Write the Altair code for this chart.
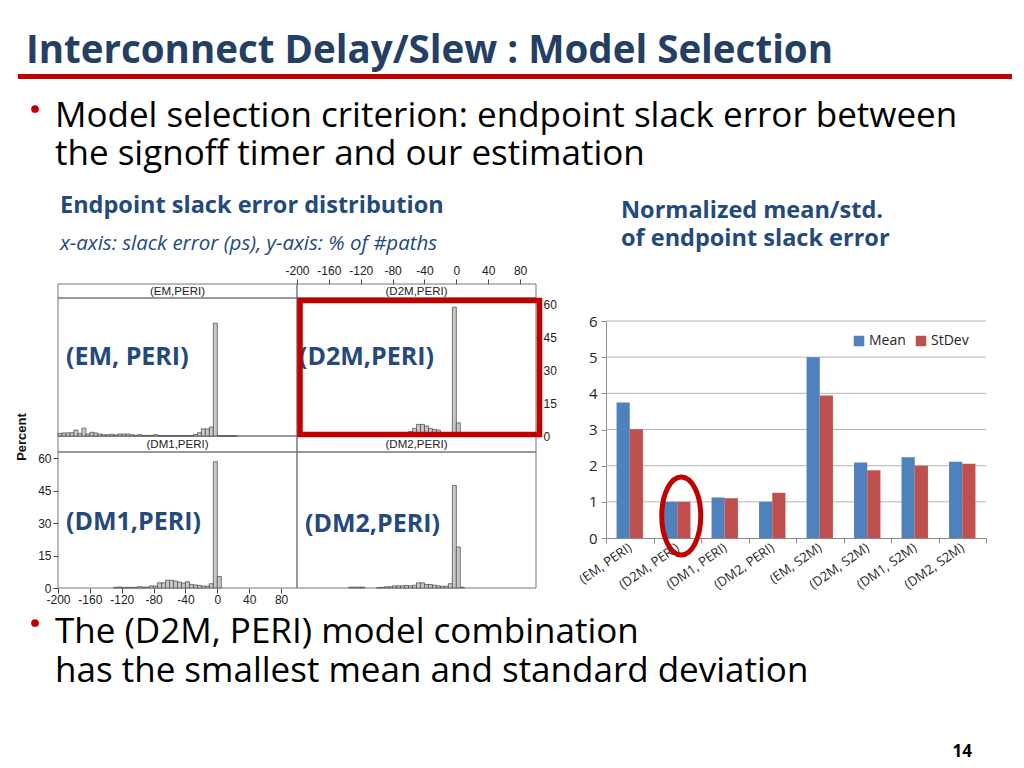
import pandas as pd
import altair as alt

# ── slide text ────────────────────────────────────────────────────────────────
SLIDE_TITLE = 'Interconnect Delay/Slew : Model Selection'
BULLET_1 = ['Model selection criterion: endpoint slack error between',
            'the signoff timer and our estimation']
BULLET_2 = ['The (D2M, PERI) model combination',
            'has the smallest mean and standard deviation']
HIST_TITLE = 'Endpoint slack error distribution'
HIST_NOTE = 'x-axis: slack error (ps), y-axis: % of #paths'
BAR_TITLE = ['Normalized mean/std.', 'of endpoint slack error']
PAGE_NO = '14'
Y_TITLE = 'Percent'

# ── histogram data (5 ps bins, % of paths) ────────────────────────────────────
BIN_WIDTH = 5
BIN_LEFT = [-200, -195, -190, -185, -180, -175, -170, -165, -160, -155,
            -150, -145, -140, -135, -130, -125, -120, -115, -110, -105,
            -100, -95, -90, -85, -80, -75, -70, -65, -60, -55,
            -50, -45, -40, -35, -30, -25, -20, -15, -10, -5,
            0, 5, 10, 15, 20, 25, 30, 35, 40, 45,
            50, 55, 60, 65, 70, 75, 80, 85, 90, 95]

PCT_EM = [1.2, 1.4, 1.4, 1.5, 2.7, 1.2, 3.6, 0.9, 1.7, 1.4,
          0.9, 0.6, 0.6, 0.8, 0.5, 0.9, 0.9, 0.9, 0.6, 0.3,
          0.6, 0.3, 0.2, 0.3, 0.6, 0.2, 0.1, 0.1, 0.1, 0.1,
          0.1, 0.1, 0.1, 0.2, 0.7, 1.5, 3.3, 3.2, 4.1, 51.5,
          0.1, 0.05, 0.05, 0.05, 0.05, 0, 0, 0, 0, 0,
          0, 0, 0, 0, 0, 0, 0, 0, 0, 0]
PCT_D2M = [0, 0, 0, 0, 0, 0, 0, 0, 0, 0,
           0, 0, 0, 0, 0, 0, 0, 0, 0, 0,
           0, 0, 0, 0, 0, 0, 0, 0.5, 2.0, 3.5,
           5.3, 5.3, 4.6, 3.5, 3.0, 2.7, 0.8, 0.3, 1.0, 58.8,
           6.0, 0, 0, 0, 0, 0, 0, 0, 0, 0,
           0, 0, 0, 0, 0, 0, 0, 0, 0, 0]
PCT_DM1 = [0, 0, 0, 0, 0, 0, 0, 0, 0, 0,
           0, 0, 0, 0, 0.3, 0.45, 0.1, 0.3, 0.3, 0.3,
           0.6, 0.45, 0.45, 1.0, 0.9, 2.4, 2.4, 3.6, 3.6, 3.2,
           2.7, 2.3, 2.9, 1.7, 1.4, 1.2, 0.9, 0.9, 2.0, 58.5,
           5.3, 0, 0, 0, 0, 0, 0, 0, 0, 0,
           0, 0, 0, 0, 0, 0, 0, 0, 0, 0]
PCT_DM2 = [0, 0, 0, 0, 0, 0, 0, 0, 0, 0,
           0, 0, 0, 0.4, 0.4, 0.4, 0.4, 0, 0, 0,
           0.2, 0.3, 0.6, 0.6, 1.0, 1.0, 1.0, 1.2, 1.0, 1.3,
           2.4, 2.4, 1.6, 1.6, 1.3, 1.0, 0.8, 0.8, 2.0, 47.5,
           19.0, 0.4, 0, 0, 0, 0, 0, 0, 0, 0,
           0, 0, 0, 0, 0, 0, 0, 0, 0, 0]

STRIPS = ['(EM,PERI)', '(D2M,PERI)', '(DM1,PERI)', '(DM2,PERI)']
NOTES = ['(EM, PERI)', '(D2M,PERI)', '(DM1,PERI)', '(DM2,PERI)']
X_TICKS = [-200, -160, -120, -80, -40, 0, 40, 80]
Y_TICKS = [0, 15, 30, 45, 60]

# ── bar chart data ────────────────────────────────────────────────────────────
MODELS = ['(EM, PERI)', '(D2M, PERI)', '(DM1, PERI)', '(DM2, PERI)',
          '(EM, S2M)', '(D2M, S2M)', '(DM1, S2M)', '(DM2, S2M)']
MEAN = [3.75, 1.0, 1.12, 1.0, 5.0, 2.09, 2.23, 2.11]
STDEV = [3.01, 1.0, 1.10, 1.25, 3.94, 1.87, 2.0, 2.05]
STATS = ['Mean', 'StDev']
STAT_COLORS = ['#4F81BD', '#C0504D']
BAR_TICKS = [0, 1, 2, 3, 4, 5, 6]
BAR_GRID = [1, 2, 3, 4, 5, 6]

# ── layout (pixels inside the 1008 x 760 view) ───────────────────────────────
W, H = 1008, 760
NAVY = '#243F66'
BLUE = '#24497C'
RED = '#C00000'
FONT = 'Open Sans'
HIST_FONT = 'Liberation Sans'
PANEL_W = 239
COL_X = [50, 289]
STRIP_Y = [(276, 290), (428, 444)]
PLOT_Y = [(290, 428), (444, 580)]
BAR_X = (598, 978)
BAR_Y = (530, 313)


# ── helpers ──────────────────────────────────────────────────────────────────

def text_layer(text, x, y, size, color='#000000', weight='normal',
               style='normal', font=FONT, align='left', baseline='alphabetic',
               angle=0):
    return alt.Chart(pd.DataFrame({'t': [text]})).mark_text(
        font=font, fontSize=size, fontWeight=weight, fontStyle=style,
        color=color, align=align, baseline=baseline, angle=angle,
    ).encode(x=alt.value(x), y=alt.value(y), text='t:N')


def dot(x, y):
    return alt.Chart(pd.DataFrame({'t': [0]})).mark_point(
        shape='circle', filled=True, size=60, color=RED, opacity=1,
    ).encode(x=alt.value(x), y=alt.value(y))


def frame(x, x2, y, y2, color='#777777', width=1.0):
    return alt.Chart(pd.DataFrame({'t': [0]})).mark_rect(
        fillOpacity=0, stroke=color, strokeWidth=width,
    ).encode(x=alt.value(x), x2=alt.value(x2), y=alt.value(y), y2=alt.value(y2))


def hist_axis(orient, offset):
    return alt.Axis(
        orient=orient, offset=offset,
        values=X_TICKS if orient in ('top', 'bottom') else Y_TICKS,
        labelExpr="'' + datum.value",
        title=None, grid=False, domain=False, tickSize=5, tickColor='#444444',
        labelPadding=1 if orient == 'bottom' else 2, labelFont=HIST_FONT,
        labelFontSize=12, labelColor='#222222', labelFlush=False,
    )


def hist_panel(pcts, col, row, x_axis=None, y_axis=None):
    x0 = COL_X[col]
    top, bottom = PLOT_Y[row]
    df = pd.DataFrame({'x0': BIN_LEFT, 'pct': pcts})
    df['x1'] = df['x0'] + BIN_WIDTH
    df = df[df['pct'] > 0]
    return alt.Chart(df).mark_rect(
        fill='#C8C8C8', stroke='#444444', strokeWidth=0.7,
    ).encode(
        x=alt.X('x0:Q', axis=x_axis,
                scale=alt.Scale(domain=[-200, 100], range=[x0, x0 + PANEL_W],
                                nice=False, zero=False)),
        x2='x1:Q',
        y=alt.Y('pct:Q', axis=y_axis,
                scale=alt.Scale(domain=[0, 63], range=[bottom, top],
                                nice=False, zero=False)),
        y2=alt.Y2Datum(0),
    )


# ── slide text ───────────────────────────────────────────────────────────────

texts = [
    text_layer(SLIDE_TITLE, 18, 55, 38.5, color=NAVY, weight='bold'),
    alt.Chart(pd.DataFrame({'t': [0]})).mark_rule(color=RED, strokeWidth=5).encode(
        x=alt.value(10), x2=alt.value(1004), y=alt.value(68.5)),
    dot(27, 101),
    text_layer(BULLET_1[0], 47, 119, 35),
    text_layer(BULLET_1[1], 47, 157, 35),
    text_layer(HIST_TITLE, 52, 205, 23.5, color=BLUE, weight='bold'),
    text_layer(HIST_NOTE, 52, 242, 20.5, color=BLUE, style='italic'),
    text_layer(BAR_TITLE[0], 613, 210, 23.5, color=BLUE, weight='bold'),
    text_layer(BAR_TITLE[1], 613, 238, 23.5, color=BLUE, weight='bold'),
    dot(27, 615),
    text_layer(BULLET_2[0], 47, 635, 35),
    text_layer(BULLET_2[1], 47, 674, 35),
    text_layer(PAGE_NO, 964, 749, 17, weight='bold', align='right'),
]

# ── histogram grid ───────────────────────────────────────────────────────────

frames = []
for i, name in enumerate(STRIPS):
    col, row = i % 2, i // 2
    x0 = COL_X[col]
    s0, s1 = STRIP_Y[row]
    p0, p1 = PLOT_Y[row]
    frames.append(frame(x0, x0 + PANEL_W, s0, s1))
    frames.append(frame(x0, x0 + PANEL_W, p0, p1))
    frames.append(text_layer(name, x0 + PANEL_W / 2, (s0 + s1) / 2 + 0.5, 11.5,
                             color='#222222', font=HIST_FONT, align='center',
                             baseline='middle'))

panels = [
    hist_panel(PCT_EM, 0, 0),
    hist_panel(PCT_D2M, 1, 0, x_axis=hist_axis('top', -STRIP_Y[0][0]),
               y_axis=hist_axis('right', COL_X[1] + PANEL_W - W)),
    hist_panel(PCT_DM1, 0, 1, x_axis=hist_axis('bottom', PLOT_Y[1][1] - H),
               y_axis=hist_axis('left', -COL_X[0])),
    hist_panel(PCT_DM2, 1, 1),
]

notes = [
    text_layer(NOTES[0], 58, 349, 25, color=BLUE, weight='bold', baseline='middle'),
    text_layer(NOTES[1], 291, 349, 25, color=BLUE, weight='bold', baseline='middle'),
    text_layer(NOTES[2], 58, 514, 25, color=BLUE, weight='bold', baseline='middle'),
    text_layer(NOTES[3], 297, 516, 25, color=BLUE, weight='bold', baseline='middle'),
    text_layer(Y_TITLE, 14, 429, 13, color='#111111', weight='bold',
               font=HIST_FONT, align='center', baseline='middle', angle=270),
    frame(292, 531.5, 292.5, 426.5, color=RED, width=5.5),
]

# ── grouped bar chart ────────────────────────────────────────────────────────

bar_df = pd.DataFrame({
    'model': MODELS * 2,
    'stat': [STATS[0]] * len(MODELS) + [STATS[1]] * len(MODELS),
    'value': MEAN + STDEV,
})

grid_lines = alt.Chart(pd.DataFrame({'value': BAR_GRID})).mark_rule(
    color='#B5B5B5', strokeWidth=1,
).encode(y='value:Q', x=alt.value(BAR_X[0]), x2=alt.value(BAR_X[1]))

bars = alt.Chart(bar_df).mark_bar().encode(
    x=alt.X('model:N', sort=MODELS,
            scale=alt.Scale(domain=MODELS, range=list(BAR_X),
                            paddingInner=0, paddingOuter=0),
            axis=alt.Axis(orient='bottom', offset=BAR_Y[0] - H, title=None,
                          tickBand='extent', tickSize=5,
                          tickColor='#8C8C8C', domainColor='#8C8C8C',
                          labelAngle=325, labelAlign='right',
                          labelBaseline='middle', labelPadding=3,
                          labelFont=FONT, labelFontSize=13,
                          labelColor='#262626', labelOverlap=False)),
    xOffset=alt.XOffset('stat:N', sort=STATS,
                        scale=alt.Scale(paddingInner=0, paddingOuter=0.8)),
    y=alt.Y('value:Q',
            scale=alt.Scale(domain=[0, 6], range=list(BAR_Y), nice=False),
            axis=alt.Axis(orient='left', offset=-BAR_X[0], title=None,
                          values=BAR_TICKS, format='d', grid=False,
                          domainColor='#8C8C8C', tickColor='#8C8C8C',
                          tickSize=5, labelPadding=4, labelFont=FONT,
                          labelFontSize=15, labelColor='#262626')),
    color=alt.Color('stat:N', sort=STATS,
                    scale=alt.Scale(domain=STATS, range=STAT_COLORS),
                    legend=alt.Legend(orient='none', legendX=844, legendY=326,
                                      direction='horizontal', title=None,
                                      symbolType='square', symbolSize=110,
                                      symbolStrokeWidth=0, labelFont=FONT,
                                      labelFontSize=14, labelColor='#262626',
                                      columnPadding=8, labelOffset=3, padding=0)),
)

ELLIPSE = 'M -0.5,0 A 0.5,1 0 1,1 0.5,0 A 0.5,1 0 1,1 -0.5,0 Z'
ring = alt.Chart(pd.DataFrame({'model': [MODELS[1]]})).mark_point(
    shape=ELLIPSE, size=6084, filled=False, stroke=RED, strokeWidth=5,
    opacity=1, xOffset=4,
).encode(x=alt.X('model:N', sort=MODELS), y=alt.value(508))

bar_chart = alt.layer(grid_lines, bars, ring)

# ── whole slide ──────────────────────────────────────────────────────────────

chart = alt.layer(
    *texts, *frames, *panels, *notes, bar_chart,
).resolve_scale(
    x='independent', y='independent',
).properties(
    width=W, height=H, padding=0,
    autosize=alt.AutoSizeParams(type='none'),
).configure(font=FONT).configure_view(strokeWidth=0)

chart.save('out.html', embed_options={'renderer': 'svg', 'actions': False})
